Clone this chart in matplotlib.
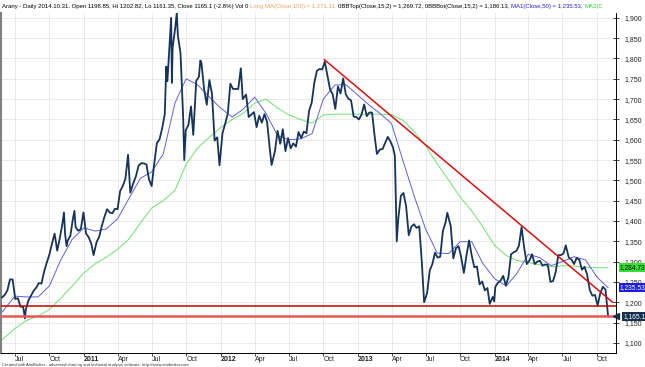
import matplotlib
matplotlib.use("Agg")
import matplotlib.pyplot as plt
from matplotlib.transforms import ScaledTranslation
import numpy as np
import pandas as pd

plt.rcParams["font.family"] = ["Liberation Sans", "DejaVu Sans"]

# --- data (gold, daily chart; weekly closes + visible extremes) ---
price_dates = [
    # 2010
    "2010-05-28", "2010-06-04", "2010-06-11", "2010-06-18", "2010-06-25", "2010-07-02", "2010-07-09",
    "2010-07-16", "2010-07-23", "2010-07-28", "2010-07-30", "2010-08-06", "2010-08-13", "2010-08-20",
    "2010-08-27", "2010-09-03", "2010-09-10", "2010-09-17", "2010-09-24", "2010-10-01", "2010-10-08",
    "2010-10-15", "2010-10-22", "2010-10-29", "2010-11-05", "2010-11-09", "2010-11-12", "2010-11-16",
    "2010-11-19", "2010-11-26", "2010-12-03", "2010-12-07", "2010-12-10", "2010-12-17", "2010-12-24",
    "2010-12-31",
    # 2011
    "2011-01-07", "2011-01-14", "2011-01-21", "2011-01-27", "2011-02-04", "2011-02-11", "2011-02-18",
    "2011-02-25", "2011-03-04", "2011-03-11", "2011-03-18", "2011-03-25", "2011-04-01", "2011-04-08",
    "2011-04-15", "2011-04-22", "2011-04-29", "2011-05-05", "2011-05-13", "2011-05-20", "2011-05-27",
    "2011-06-03", "2011-06-10", "2011-06-17", "2011-06-24", "2011-07-01", "2011-07-08", "2011-07-15",
    "2011-07-22", "2011-07-29", "2011-08-05", "2011-08-09", "2011-08-12", "2011-08-19", "2011-08-22",
    "2011-08-24", "2011-08-26", "2011-09-02", "2011-09-06", "2011-09-09", "2011-09-16", "2011-09-23",
    "2011-09-26", "2011-09-30", "2011-10-07", "2011-10-14", "2011-10-20", "2011-10-28", "2011-11-04",
    "2011-11-08", "2011-11-11", "2011-11-18", "2011-11-25", "2011-12-02", "2011-12-09", "2011-12-16",
    "2011-12-23", "2011-12-29",
    # 2012
    "2012-01-06", "2012-01-13", "2012-01-20", "2012-01-27", "2012-02-03", "2012-02-10", "2012-02-17",
    "2012-02-24", "2012-02-29", "2012-03-09", "2012-03-16", "2012-03-23", "2012-03-30", "2012-04-06",
    "2012-04-13", "2012-04-20", "2012-04-27", "2012-05-04", "2012-05-11", "2012-05-16", "2012-05-25",
    "2012-06-01", "2012-06-08", "2012-06-15", "2012-06-22", "2012-06-29", "2012-07-06", "2012-07-13",
    "2012-07-20", "2012-07-27", "2012-08-03", "2012-08-10", "2012-08-17", "2012-08-24", "2012-08-31",
    "2012-09-07", "2012-09-14", "2012-09-21", "2012-09-28", "2012-10-05", "2012-10-12", "2012-10-19",
    "2012-10-26", "2012-11-02", "2012-11-09", "2012-11-16", "2012-11-23", "2012-11-30", "2012-12-07",
    "2012-12-14", "2012-12-21", "2012-12-28",
    # 2013
    "2013-01-04", "2013-01-11", "2013-01-18", "2013-01-25", "2013-02-01", "2013-02-08", "2013-02-15",
    "2013-02-21", "2013-03-01", "2013-03-08", "2013-03-15", "2013-03-22", "2013-03-29", "2013-04-05",
    "2013-04-10", "2013-04-12", "2013-04-15", "2013-04-19", "2013-04-26", "2013-05-03", "2013-05-10",
    "2013-05-17", "2013-05-24", "2013-05-31", "2013-06-07", "2013-06-14", "2013-06-21", "2013-06-27",
    "2013-07-05", "2013-07-12", "2013-07-19", "2013-07-26", "2013-08-02", "2013-08-09", "2013-08-16",
    "2013-08-23", "2013-08-28", "2013-09-06", "2013-09-13", "2013-09-20", "2013-09-27", "2013-10-04",
    "2013-10-11", "2013-10-18", "2013-10-25", "2013-11-01", "2013-11-08", "2013-11-15", "2013-11-22",
    "2013-11-29", "2013-12-06", "2013-12-13", "2013-12-19", "2013-12-27", "2013-12-31",
    # 2014
    "2014-01-03", "2014-01-10", "2014-01-17", "2014-01-24", "2014-01-31", "2014-02-07", "2014-02-14",
    "2014-02-21", "2014-02-28", "2014-03-07", "2014-03-14", "2014-03-21", "2014-03-28", "2014-04-04",
    "2014-04-11", "2014-04-18", "2014-04-25", "2014-05-02", "2014-05-09", "2014-05-16", "2014-05-23",
    "2014-05-30", "2014-06-06", "2014-06-13", "2014-06-20", "2014-06-27", "2014-07-04", "2014-07-10",
    "2014-07-18", "2014-07-25", "2014-08-01", "2014-08-08", "2014-08-15", "2014-08-22", "2014-08-29",
    "2014-09-05", "2014-09-12", "2014-09-19", "2014-09-26", "2014-10-03", "2014-10-10", "2014-10-17",
    "2014-10-24", "2014-10-31",
]
price_close = [
    # 2010
    1212, 1218, 1229, 1256, 1256, 1208, 1210,
    1189, 1189, 1160, 1181, 1204, 1216, 1228,
    1236, 1247, 1246, 1275, 1297, 1317, 1344,
    1369, 1327, 1358, 1394, 1421, 1368, 1338,
    1352, 1363, 1406, 1425, 1385, 1376, 1380,
    1421,
    # 2011
    1369, 1360, 1344, 1316, 1348, 1361, 1388,
    1410, 1429, 1421, 1419, 1430, 1429, 1474,
    1486, 1504, 1563, 1470, 1493, 1510, 1536,
    1542, 1542, 1539, 1502, 1486, 1542, 1592,
    1601, 1628, 1663, 1780, 1744, 1852, 1900,
    1740, 1828, 1876, 1912, 1856, 1813, 1656,
    1550, 1624, 1636, 1682, 1612, 1745, 1755,
    1795, 1788, 1724, 1686, 1747, 1713, 1598,
    1606, 1537,
    # 2012
    1616, 1639, 1664, 1738, 1725, 1725, 1725,
    1776, 1700, 1711, 1656, 1662, 1668, 1631,
    1659, 1642, 1663, 1644, 1580, 1538, 1572,
    1622, 1590, 1626, 1572, 1604, 1579, 1591,
    1583, 1619, 1604, 1620, 1616, 1671, 1691,
    1740, 1770, 1774, 1773, 1792, 1758, 1724,
    1712, 1676, 1731, 1714, 1751, 1712, 1701,
    1697, 1657, 1656,
    # 2013
    1650, 1662, 1687, 1658, 1667, 1667, 1609,
    1565, 1576, 1577, 1592, 1607, 1596, 1581,
    1560, 1476, 1350, 1405, 1462, 1469, 1436,
    1365, 1386, 1392, 1383, 1387, 1297, 1200,
    1223, 1278, 1294, 1322, 1310, 1312, 1375,
    1396, 1420, 1387, 1308, 1333, 1338, 1310,
    1272, 1315, 1352, 1315, 1286, 1288, 1244,
    1251, 1229, 1235, 1196, 1213, 1202,
    # 2014
    1238, 1248, 1253, 1265, 1241, 1262, 1318,
    1323, 1326, 1339, 1385, 1334, 1294, 1303,
    1318, 1294, 1300, 1302, 1290, 1293, 1292,
    1250, 1252, 1274, 1316, 1316, 1320, 1340,
    1310, 1305, 1294, 1309, 1305, 1280, 1287,
    1268, 1230, 1216, 1218, 1192, 1222, 1238,
    1231, 1165,
]

ma_dates = [
    "2010-05-28", "2010-07-01", "2010-08-01", "2010-09-01", "2010-10-01", "2010-11-01", "2010-12-01",
    "2011-01-01", "2011-02-01", "2011-03-01", "2011-04-01", "2011-05-01", "2011-06-01", "2011-07-01",
    "2011-08-01", "2011-09-01", "2011-10-01", "2011-11-01", "2011-12-01",
    "2012-01-01", "2012-02-01", "2012-03-01", "2012-04-01", "2012-05-01", "2012-06-01", "2012-07-01",
    "2012-08-01", "2012-09-01", "2012-10-01", "2012-11-01", "2012-12-01",
    "2013-01-01", "2013-02-01", "2013-03-01", "2013-04-01", "2013-05-01", "2013-06-01", "2013-07-01",
    "2013-08-01", "2013-09-01", "2013-10-01", "2013-11-01", "2013-12-01",
    "2014-01-01", "2014-02-01", "2014-03-01", "2014-04-01", "2014-05-01", "2014-06-01", "2014-07-01",
    "2014-08-01", "2014-09-01", "2014-10-01", "2014-10-31",
]
ma1_values = [  # MA1(Close,50), blue
    1176, 1215, 1213, 1213, 1240, 1305, 1355,
    1383, 1375, 1380, 1405, 1455, 1505, 1521,
    1565, 1690, 1750, 1735, 1706,
    1678, 1656, 1675, 1705, 1665, 1610, 1600,
    1602, 1615, 1700, 1735, 1735,
    1710, 1685, 1665, 1640, 1550, 1460, 1380,
    1321, 1320, 1349, 1349, 1295,
    1258, 1240, 1270, 1318, 1310, 1290, 1300,
    1312, 1304, 1262, 1235.53,
]
ma2_values = [  # MA2, green
    1108, 1135, 1155, 1166, 1182, 1210, 1240,
    1272, 1295, 1310, 1330, 1355, 1395, 1432,
    1450, 1475, 1540, 1580, 1605,
    1630, 1650, 1665, 1690, 1700, 1678, 1661,
    1650, 1641, 1661, 1663, 1663,
    1663, 1663, 1663, 1662, 1648, 1620, 1585,
    1540, 1500, 1459, 1425, 1385,
    1340, 1315, 1303, 1298, 1292, 1287, 1290,
    1289, 1286, 1285, 1284.73,
]

trend_dates = ["2012-10-04", "2014-11-12"]
trend_values = [1797, 1200]
support_upper = 1191
support_lower = 1165.1

last_close = 1165.1
last_ma1 = 1235.53
last_ma2 = 1284.73

title_parts = [
    ("Arany - Daily 2014.10.31. Open 1198.85, Hi 1202.82, Lo 1161.35, Close 1165.1 (-2.8%) Vol 0 ", "#000000"),
    ("Long MA(Close,100) = 1,271.11, ", "#f0a060"),
    ("0BBTop(Close,15,2) = 1,269.72, 0BBBot(Close,15,2) = 1,186.13, ", "#000000"),
    ("MA1(Close,50) = 1,235.53, ", "#2020dd"),
    ("MA2(C", "#30d030"),
]

quarter_ticks = pd.date_range("2010-07-01", "2014-10-01", freq="QS")
quarter_names = {1: "Jan", 4: "Apr", 7: "Jul", 10: "Oct"}

# --- figure ---
fig = plt.figure(figsize=(6.45, 3.67), dpi=100)
ax = fig.add_axes([1 / 645, 14 / 367, 615 / 645, 340 / 367])

ax.plot(pd.to_datetime(ma_dates), ma2_values, color="#70e070", lw=0.7, zorder=2)
ax.plot(pd.to_datetime(ma_dates), ma1_values, color="#6060dd", lw=0.7, zorder=2)
ax.plot(pd.to_datetime(price_dates), price_close, color="#16335a", lw=1.3, zorder=3)

ax.axhline(support_upper, color="#c80000", lw=1.1, zorder=4)
ax.axhline(support_lower, color="#e85555", lw=1.8, zorder=4)
ax.plot(pd.to_datetime(trend_dates), trend_values, color="#dd1010", lw=1.1, zorder=4)

ax.set_xlim(pd.Timestamp("2010-05-25"), pd.Timestamp("2014-11-21"))
ax.set_ylim(1075, 1912)

# x axis: quarter ticks, labels sit right of the tick
ax.set_xticks(quarter_ticks)
labels = [str(d.year) if d.month == 1 else quarter_names[d.month] for d in quarter_ticks]
ax.set_xticklabels(labels, fontsize=5)
offset = ScaledTranslation(1.8 / 72, 0, fig.dpi_scale_trans)
for d, lbl in zip(quarter_ticks, ax.get_xticklabels()):
    lbl.set_ha("left")
    lbl.set_transform(lbl.get_transform() + offset)
    if d.month == 1:
        lbl.set_fontweight("bold")
ax.tick_params(axis="x", length=2.2, width=0.6, pad=0.3, colors="#222222")

# y axis on the right
ax.yaxis.tick_right()
ax.set_yticks(np.arange(1100, 1901, 50))
ax.yaxis.set_major_formatter(matplotlib.ticker.FuncFormatter(lambda v, p: f"{v:,.0f}"))
ax.tick_params(axis="y", direction="inout", length=4, width=0.6, pad=4, labelsize=5, colors="#222222")

ax.grid(True, color="#e6e6e6", lw=0.6)
ax.set_axisbelow(True)
ax.spines["top"].set_visible(False)
ax.spines["left"].set_color("#808080")
ax.spines["left"].set_linewidth(1.5)
for s in ("right", "bottom"):
    ax.spines[s].set_linewidth(0.7)

# value tags on the price axis (drawn over the tick labels, as in the original)
tag_kw = dict(xycoords=("axes fraction", "data"), fontsize=4.8, va="center", ha="left",
              annotation_clip=False, zorder=10)
ax.annotate(f"{last_ma2:,.2f}", xy=(1.006, last_ma2), color="black",
            bbox=dict(boxstyle="square,pad=0.15", fc="#33e033", ec="none"), **tag_kw)
ax.annotate(f"{last_ma1:,.2f}", xy=(1.006, last_ma1), color="white",
            bbox=dict(boxstyle="square,pad=0.15", fc="#1c1ce0", ec="none"), **tag_kw)
ax.plot([1.0], [last_close], marker="<", ms=4, color="#14304f", transform=ax.get_yaxis_transform(),
        clip_on=False, zorder=6)
ax.annotate(f"{last_close:,.1f}", xy=(1.012, last_close), color="white",
            bbox=dict(boxstyle="square,pad=0.15", fc="#14304f", ec="none"), **tag_kw)

# coloured header text, each part following the previous one
prev = fig.text(0.003, 0.988, title_parts[0][0], color=title_parts[0][1], fontsize=4.3, va="top", ha="left")
for text, color in title_parts[1:]:
    prev = ax.annotate(text, xy=(1, 0), xycoords=prev, va="bottom", ha="left", color=color, fontsize=4.3,
                       annotation_clip=False)

fig.text(0.003, 0.001, "Created with AmiBroker - advanced charting and technical analysis software. http://www.amibroker.com",
         fontsize=3.0, color="#333333", va="bottom", ha="left")

fig.savefig("out.png", dpi=100)
